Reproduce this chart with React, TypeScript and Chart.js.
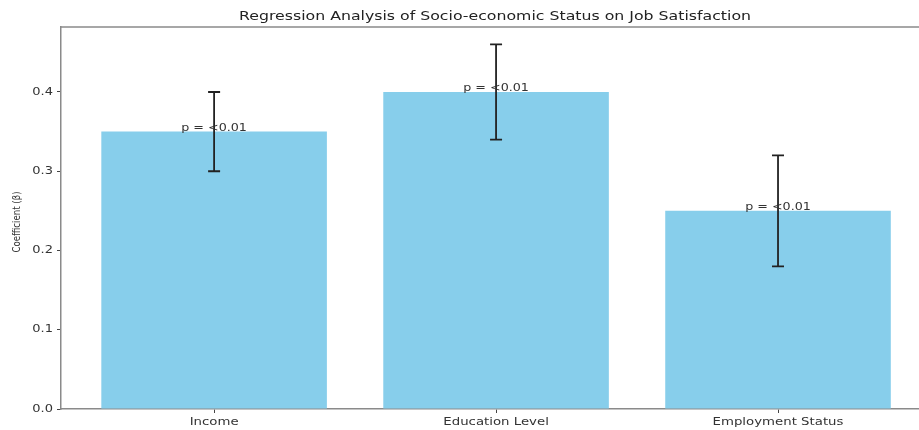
import React, { useEffect, useRef } from "react";
import { Chart, registerables } from "chart.js";

Chart.register(...registerables);

const chartTitle = "Regression Analysis of Socio-economic Status on Job Satisfaction";
const yAxisTitle = "Coefficient (β)";
const categories = ["Income", "Education Level", "Employment Status"];
const coefficients = [0.35, 0.4, 0.25];
const stdErrors = [0.05, 0.06, 0.07];
const pLabels = ["p = <0.01", "p = <0.01", "p = <0.01"];
const yTicks = [0, 0.1, 0.2, 0.3, 0.4];

const FONT = "'DejaVu Sans', sans-serif";
const SX = 1.3; // horizontal stretch of the reference's text

function stretchedText(
  ctx: CanvasRenderingContext2D,
  text: string,
  x: number,
  y: number,
  size: number,
  sx: number,
  align: CanvasTextAlign,
  baseline: CanvasTextBaseline,
  color: string
) {
  ctx.save();
  ctx.translate(x, y);
  ctx.scale(sx, 1);
  ctx.font = `${size}px ${FONT}`;
  ctx.fillStyle = color;
  ctx.textAlign = align;
  ctx.textBaseline = baseline;
  ctx.fillText(text, 0, 0);
  ctx.restore();
}

const overlayPlugin = {
  id: "overlay",
  afterDatasetsDraw(chart: any) {
    const ctx: CanvasRenderingContext2D = chart.ctx;
    const x = chart.scales.x;
    const y = chart.scales.y;
    const area = chart.chartArea;
    ctx.save();
    // top spine
    ctx.strokeStyle = "#8a8a8a";
    ctx.lineWidth = 1.5;
    ctx.beginPath();
    ctx.moveTo(area.left, area.top);
    ctx.lineTo(area.right, area.top);
    ctx.stroke();
    // error bars
    ctx.strokeStyle = "#222";
    ctx.lineWidth = 1.8;
    coefficients.forEach((v, i) => {
      const px = x.getPixelForValue(i);
      const lo = y.getPixelForValue(v - stdErrors[i]);
      const hi = y.getPixelForValue(v + stdErrors[i]);
      ctx.beginPath();
      ctx.moveTo(px, lo);
      ctx.lineTo(px, hi);
      ctx.moveTo(px - 6, lo);
      ctx.lineTo(px + 6, lo);
      ctx.moveTo(px - 6, hi);
      ctx.lineTo(px + 6, hi);
      ctx.stroke();
    });
    ctx.restore();
    // p labels
    coefficients.forEach((v, i) => {
      const px = x.getPixelForValue(i);
      const py = y.getPixelForValue(v);
      stretchedText(ctx, pLabels[i], px, py - 1, 10, 1.27, "center", "alphabetic", "#333");
    });
    // x tick labels
    categories.forEach((c, i) => {
      stretchedText(ctx, c, x.getPixelForValue(i), 425, 10, 1.33, "center", "alphabetic", "#333");
    });
    // y tick labels
    yTicks.forEach((t) => {
      stretchedText(ctx, t.toFixed(1), 53, y.getPixelForValue(t), 10, SX, "right", "middle", "#333");
    });
    // title
    stretchedText(ctx, chartTitle, 495, 20, 12.5, 1.26, "center", "alphabetic", "#222");
    // y axis title
    ctx.save();
    ctx.translate(17, 222);
    ctx.rotate(-Math.PI / 2);
    ctx.scale(1, SX);
    ctx.font = `8.6px ${FONT}`;
    ctx.fillStyle = "#333";
    ctx.textAlign = "center";
    ctx.textBaseline = "middle";
    ctx.fillText(yAxisTitle, 0, 0);
    ctx.restore();
  },
};

export default function App() {
  const ref = useRef<HTMLCanvasElement | null>(null);
  useEffect(() => {
    if (!ref.current) return;
    const chart = new Chart(ref.current, {
      type: "bar",
      data: {
        datasets: [
          {
            data: coefficients.map((v, i) => ({ x: i, y: v })),
            backgroundColor: "#87CEEB",
            borderWidth: 0,
            barPercentage: 0.8,
            categoryPercentage: 1,
          },
        ],
      },
      options: {
        responsive: false,
        animation: false,
        layout: { padding: { top: 27, left: 0, right: 0, bottom: 0 } },
        plugins: {
          legend: { display: false },
          tooltip: { enabled: false },
          title: { display: false },
        },
        scales: {
          x: {
            type: "linear",
            offset: false,
            min: -0.543,
            max: 2.5,
            afterBuildTicks: (s: any) => {
              s.ticks = categories.map((_, i) => ({ value: i }));
            },
            afterFit: (s: any) => {
              s.height = 21;
            },
            ticks: { display: false },
            grid: { offset: false, drawOnChartArea: false, drawTicks: true, tickLength: 4, color: "#444" },
            border: { color: "#8a8a8a", width: 1.5 },
          },
          y: {
            type: "linear",
            min: 0,
            max: 0.482,
            afterBuildTicks: (s: any) => {
              s.ticks = yTicks.map((v) => ({ value: v }));
            },
            afterFit: (s: any) => {
              s.width = 61;
            },
            ticks: { display: false },
            grid: { drawOnChartArea: false, drawTicks: true, tickLength: 4, color: "#444" },
            border: { color: "#8a8a8a", width: 1.5 },
          },
        },
      },
      plugins: [overlayPlugin],
    });
    return () => chart.destroy();
  }, []);
  return (
    <div style={{ position: "absolute", left: 0, top: 0, width: 919, height: 430, background: "#fff" }}>
      <canvas ref={ref} width={919} height={430} style={{ display: "block" }} />
    </div>
  );
}
